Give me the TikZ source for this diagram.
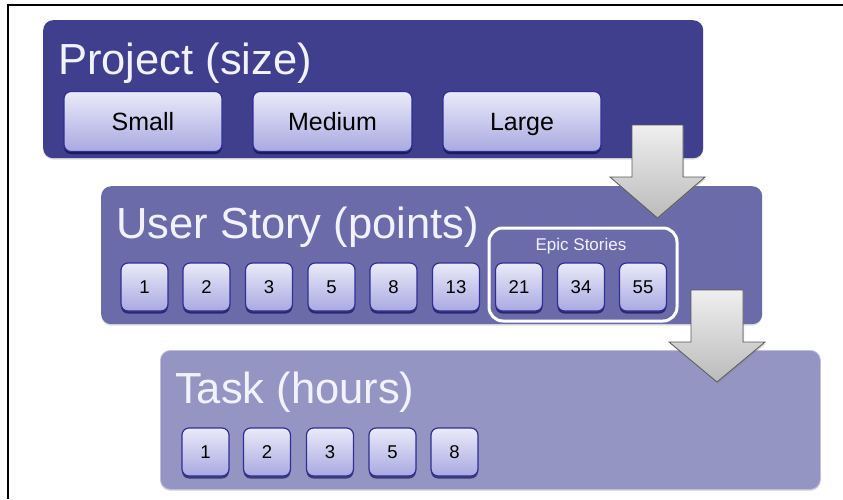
\documentclass[tikz,border=0pt]{standalone}
\usepackage{fontspec}
\setmainfont{Liberation Sans}
\usetikzlibrary{shadows}
\definecolor{boxA}{HTML}{3F3F8E}
\definecolor{boxB}{HTML}{6B6BAA}
\definecolor{boxC}{HTML}{9595C3}
\definecolor{btnTop}{HTML}{EAEAF9}
\definecolor{btnBot}{HTML}{A9A9E2}
\definecolor{btnEdge}{HTML}{2F2F96}
\definecolor{arrTop}{HTML}{EFEFEF}
\definecolor{arrBot}{HTML}{BBBBBB}
\definecolor{arrEdge}{HTML}{5A5A5A}
\begin{document}
\begin{tikzpicture}[x=1pt,y=-1pt,
  panel/.style={rounded corners=10pt, inner sep=0pt, anchor=north west,
    drop shadow={shadow xshift=0pt, shadow yshift=-1.5pt, opacity=0.25}},
  ptitle/.style={anchor=base west, inner sep=0pt, text=white!95!blue,
    font=\fontsize{43.5}{43.5}\selectfont},
  btn/.style={draw=btnEdge, line width=1.2pt, rounded corners=7pt,
    top color=btnTop, bottom color=btnBot, inner sep=0pt, text=black,
    drop shadow={shadow xshift=0pt, shadow yshift=-2.5pt, fill=black!75!blue, opacity=0.6}},
  bigbtn/.style={btn, minimum width=158pt, minimum height=60pt,
    text height=21.25pt, text depth=3.75pt,
    font=\fontsize{25}{25}\selectfont},
  numbtn/.style={btn, minimum width=47pt, minimum height=48pt,
    text height=15.7pt, text depth=2.8pt,
    font=\fontsize{18.5}{18.5}\selectfont},
  blockarrow/.style={draw=arrEdge, line width=0.8pt, top color=arrTop, bottom color=arrBot,
    drop shadow={shadow xshift=1pt, shadow yshift=-1.5pt, opacity=0.35}}
]
\useasboundingbox (0,0) rectangle (843,499);
\fill[white] (0,0) rectangle (843,499);
\draw[line width=1.5pt] (8,499) -- (8,5) -- (843,5);

% panels
\node[panel, fill=boxA, minimum width=660pt, minimum height=138pt] (proj) at (43,20) {};
\node[panel, fill=boxB, minimum width=661pt, minimum height=138pt] (story) at (101,186) {};
\node[panel, fill=boxC, draw=boxC!60!white, line width=0.8pt, minimum width=660pt, minimum height=139pt] (task) at (160,350) {};

% titles
\node[ptitle] (projT) at (58,74) {Project (size)};
\node[ptitle] (storyT) at (116,238) {User Story (points)};
\node[ptitle] (taskT) at (175,403) {Task (hours)};

% project sizes
\node[bigbtn] (small) at (143,121.5) {Small};
\node[bigbtn, minimum width=159pt] (medium) at (332.5,121.5) {Medium};
\node[bigbtn] (large) at (522,121.5) {Large};

% epic group
\node[draw=white, line width=3pt, rounded corners=14pt, minimum width=188pt,
  minimum height=93pt, anchor=north west, inner sep=0pt] (epic) at (487.5,226.5) {};
\node[text=white!95!blue, font=\fontsize{17}{17}\selectfont, inner sep=0pt] (epicT) at (581,246) {Epic Stories};

% story points
\node[numbtn] (s1) at (144.5,287) {1};
\node[numbtn] (s2) at (206.5,287) {2};
\node[numbtn] (s3) at (269,287) {3};
\node[numbtn] (s5) at (331.5,287) {5};
\node[numbtn] (s8) at (393.5,287) {8};
\node[numbtn] (s13) at (456,287) {13};
\node[numbtn] (s21) at (519,287) {21};
\node[numbtn] (s34) at (581,287) {34};
\node[numbtn] (s55) at (643,287) {55};

% task hours
\node[numbtn] (t1) at (205.5,452) {1};
\node[numbtn] (t2) at (267,452) {2};
\node[numbtn] (t3) at (330,452) {3};
\node[numbtn] (t5) at (392.5,452) {5};
\node[numbtn] (t8) at (454.5,452) {8};

% block arrows
\path[blockarrow] (632,125) -- (683,125) -- (683,177) -- (705,177) -- (657.5,218)
  -- (610,177) -- (632,177) -- cycle;
\path[blockarrow] (691,290) -- (743,290) -- (743,342) -- (765,342) -- (717,382)
  -- (669,342) -- (691,342) -- cycle;
\end{tikzpicture}
\end{document}
